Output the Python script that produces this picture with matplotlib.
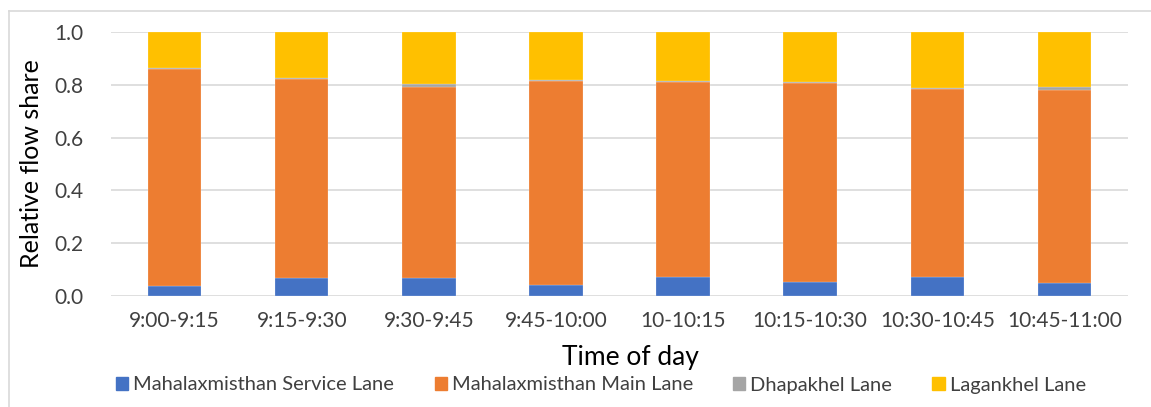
import matplotlib
matplotlib.use('Agg')
import matplotlib.pyplot as plt
import matplotlib.patches as mpatches
import numpy as np

plt.rcParams['font.family'] = ['Lato', 'DejaVu Sans']

# ── data ──────────────────────────────────────────────────────────────── #
periods = ['9:00-9:15', '9:15-9:30', '9:30-9:45', '9:45-10:00',
           '10-10:15', '10:15-10:30', '10:30-10:45', '10:45-11:00']

service_lane = [0.039, 0.067, 0.069, 0.042, 0.073, 0.052, 0.072, 0.050]
main_lane    = [0.821, 0.754, 0.721, 0.772, 0.739, 0.754, 0.713, 0.731]
dhapakhel    = [0.004, 0.003, 0.014, 0.005, 0.002, 0.003, 0.001, 0.009]
lagankhel    = [0.136, 0.176, 0.196, 0.181, 0.186, 0.191, 0.214, 0.210]

series = [
    ('Mahalaxmisthan Service Lane', service_lane, '#4472C4'),
    ('Mahalaxmisthan Main Lane',    main_lane,    '#ED7D31'),
    ('Dhapakhel Lane',              dhapakhel,    '#A5A5A5'),
    ('Lagankhel Lane',              lagankhel,    '#FFC000'),
]

# ── figure ────────────────────────────────────────────────────────────── #
fig = plt.figure(figsize=(11.51, 4.07), dpi=100)
ax = fig.add_axes([111 / 1151, 1 - 296 / 407, 1017 / 1151, 264 / 407])

x = np.arange(len(periods))
bottom = np.zeros(len(periods))
for name, vals, col in series:
    vals = np.array(vals)
    ax.bar(x, vals, width=0.42, bottom=bottom, color=col,
           edgecolor='#FFFFFF80', linewidth=0.3, zorder=3)
    bottom += vals

ax.set_xlim(-0.5, len(periods) - 0.5)
ax.set_ylim(0, 1.0)
ax.set_yticks(np.arange(0, 1.01, 0.2))
ax.set_yticklabels([f'{v:.1f}' for v in np.arange(0, 1.01, 0.2)])
ax.set_xticks(x)
ax.set_xticklabels(periods)
ax.grid(axis='y', color='#D9D9D9', linewidth=1.2, zorder=0)
ax.set_axisbelow(True)
for s in ax.spines.values():
    s.set_visible(False)
ax.tick_params(axis='both', length=0, labelsize=15, colors='#404040')
ax.tick_params(axis='x', pad=11)
ax.tick_params(axis='y', pad=20)

ax.set_ylabel('Relative flow share', fontsize=18, color='#000000', labelpad=8)
fig.text(630 / 1151, 1 - 357 / 407, 'Time of day', fontsize=19,
         ha='center', va='center', color='#000000')

# legend
handles = [mpatches.Patch(color=c, label=n) for n, _, c in series]
fig.legend(handles=handles, loc='center', ncol=4,
           bbox_to_anchor=(601 / 1151, 1 - 385 / 407), frameon=False,
           fontsize=14.5, handlelength=0.6, handleheight=0.6,
           handletextpad=0.25, columnspacing=2.0, labelcolor='#404040')

# chart-area border
fig.add_artist(plt.Line2D([9 / 1151, 9 / 1151], [0, 1 - 11 / 407],
                          color='#D9D9D9', linewidth=1.2))
fig.add_artist(plt.Line2D([9 / 1151, 1], [1 - 11 / 407, 1 - 11 / 407],
                          color='#D9D9D9', linewidth=1.2))

fig.savefig('out.png', dpi=100)
